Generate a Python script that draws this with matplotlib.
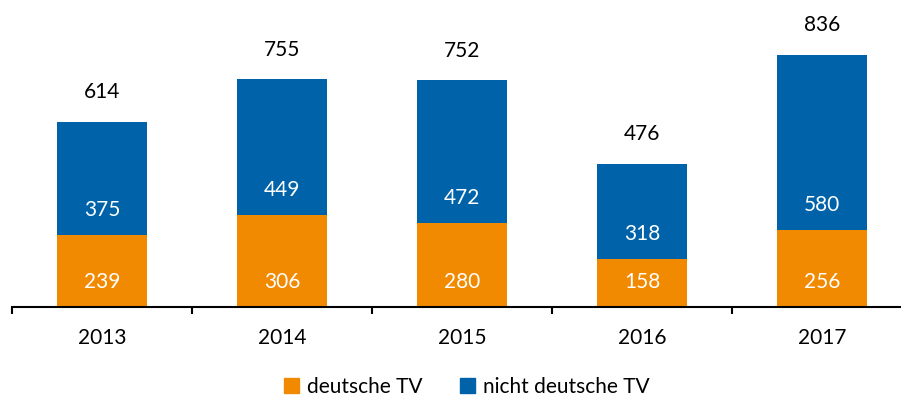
import matplotlib
matplotlib.use("Agg")
import matplotlib.pyplot as plt
from matplotlib.patches import Patch
import numpy as np

years = ["2013", "2014", "2015", "2016", "2017"]
deutsche = [239, 306, 280, 158, 256]
nicht_deutsche = [375, 449, 472, 318, 580]
totals = [614, 755, 752, 476, 836]

orange = "#F18A00"
blue = "#0062A8"

plt.rcParams['font.family'] = ['Lato', 'DejaVu Sans']
fs = 15

W, H = 901, 401
fig = plt.figure(figsize=(W / 100, H / 100), dpi=100)
ax = fig.add_axes([12 / W, (H - 307) / H, 900 / W, 287 / H])

x = np.arange(len(years))
ax.bar(x, deutsche, width=0.5, color=orange, zorder=2)
ax.bar(x, nicht_deutsche, width=0.5, bottom=deutsche, color=blue, zorder=2)

off = 18  # points above segment base (inside base placement)
for i in range(len(years)):
    ax.annotate(str(deutsche[i]), (x[i], 0), xytext=(0, off),
                textcoords='offset points', ha='center', va='center',
                color='white', fontsize=fs)
    ax.annotate(str(nicht_deutsche[i]), (x[i], deutsche[i]), xytext=(0, off),
                textcoords='offset points', ha='center', va='center',
                color='white', fontsize=fs)
    ax.annotate(str(totals[i]), (x[i], deutsche[i] + nicht_deutsche[i]),
                xytext=(0, 17), textcoords='offset points', ha='center',
                va='baseline', color='black', fontsize=fs)

ax.set_xlim(-0.5, 4.5)
ax.set_ylim(0, 952)
for s in ['top', 'right', 'left']:
    ax.spines[s].set_visible(False)
ax.spines['bottom'].set_linewidth(1.5)
ax.set_yticks([])
ax.set_xticks(x)
ax.set_xticklabels(years, fontsize=fs)
ax.tick_params(axis='x', which='major', length=0, pad=15)
ax.set_xticks(np.arange(-0.5, 5, 1), minor=True)
ax.tick_params(axis='x', which='minor', length=5, width=1.5, direction='out')

handles = [Patch(color=orange, label='deutsche TV'),
           Patch(color=blue, label='nicht deutsche TV')]
fig.legend(handles=handles, loc='center', bbox_to_anchor=(467 / W, 1 - 387 / H),
           ncol=2, frameon=False, fontsize=fs, handlelength=0.7, handleheight=0.7,
           handletextpad=0.4, columnspacing=1.8)

fig.savefig("out.png", dpi=100)
